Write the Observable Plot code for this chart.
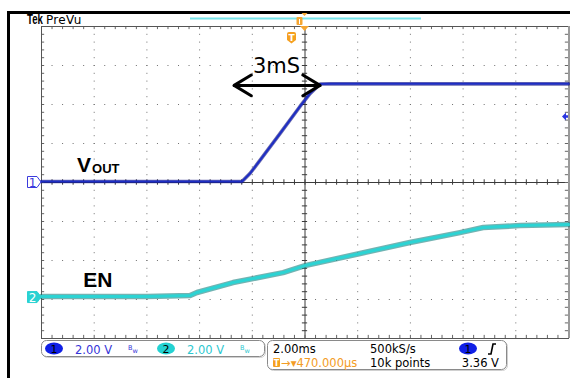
<!DOCTYPE html>
<html><head><meta charset="utf-8">
<script src="https://cdn.jsdelivr.net/npm/d3@7"></script>
<script src="https://cdn.jsdelivr.net/npm/@observablehq/plot@0.6"></script>
<style>
html,body{margin:0;padding:0;background:#fff;}
#chart{position:absolute;left:0;top:0;width:570px;height:378px;overflow:hidden;}
</style></head>
<body>
<div id="chart"></div>
<script>
// ---- scope settings ----
const timeDomain = [-10, 10];      // ms (2.00 ms/div, 10 div)
const divDomain = [-4, 4];         // vertical divisions
const voltsPerDiv = 2.0;           // both channels 2.00 V/div
const ch1Offset = 0;               // ground marker of ch1 (div)
const ch2Offset = -2.95;           // ground marker of ch2 (div)
const triggerLevel = 3.36;         // V on ch1

// ---- Channel 1 : VOUT ----
const voutTime  = [-10, -6, -2.39, -2.09, -1.71, -0.95, -0.19, 0.19, 0.57, 1.0, 5, 10];
const voutVolts = [0.05, 0.05, 0.05, 0.46, 1.13, 2.51, 3.90, 4.56, 5.05, 5.06, 5.06, 5.06];

// ---- Channel 2 : EN ----
const enTime  = [-10, -6, -4.36, -4.1, -2.73, -0.83, 0, 2.09, 3.98, 5.88, 6.76, 8.16, 10];
const enVolts = [0.05, 0.05, 0.10, 0.26, 0.77, 1.28, 1.64, 2.26, 2.82, 3.33, 3.59, 3.69, 3.74];

// ---- graticule ----
const gridX = [-8, -6, -4, -2, 2, 4, 6, 8];
const gridY = [-3, -2, -1, 1, 2, 3];
const minorX = d3.range(-10, 10.001, 0.4);
const minorY = d3.range(-4, 4.001, 0.2);

// ---- annotations ----
const spanLabel = [{t: -1.08, y: 2.98, s: "3mS"}];
const spanEnds = [-2.69, 0.57];     // ms, ends of the 3 ms arrow
const spanY = 2.49;
const vLabel = [{t: -8.65, y: 0.45, s: "V"}];
const outLabel = [{t: -8.08, y: 0.35, s: "OUT"}];
const enLabel = [{t: -8.42, y: -2.51, s: "EN"}];

const vout = voutTime.map((t, i) => ({t, v: voutVolts[i]}));
const en = enTime.map((t, i) => ({t, v: enVolts[i]}));
const y1 = d => ch1Offset + d.v / voltsPerDiv;
const y2 = d => ch2Offset + d.v / voltsPerDiv;

const plot = Plot.plot({
  width: 570, height: 378,
  marginLeft: 41, marginRight: 2, marginTop: 26, marginBottom: 40,
  x: {domain: timeDomain, axis: null},
  y: {domain: divDomain, axis: null},
  style: {fontFamily: "DejaVu Sans", background: "white"},
  marks: [
    Plot.ruleY(gridY, {stroke: "#707070", strokeDasharray: "1,9.54"}),
    Plot.ruleX(gridX, {stroke: "#707070", strokeDasharray: "1,6.8"}),
    Plot.ruleX([0], {stroke: "#3a3a3a"}),
    Plot.ruleY([0], {stroke: "#3a3a3a"}),
    Plot.ruleX(minorX, {y1: -0.07, y2: 0.07, stroke: "#3a3a3a"}),
    Plot.ruleY(minorY, {x1: -0.1, x2: 0.1, stroke: "#3a3a3a"}),
    Plot.ruleX(minorX, {y1: 4, y2: 3.92, stroke: "#666"}),
    Plot.ruleX(minorX, {y1: -4, y2: -3.92, stroke: "#666"}),
    Plot.ruleY(minorY, {x1: -10, x2: -9.88, stroke: "#666"}),
    Plot.ruleY(minorY, {x1: 10, x2: 9.88, stroke: "#666"}),
    Plot.frame({stroke: "#555"}),
    Plot.ruleX([10], {stroke: "#9a9a9a", strokeWidth: 3, dx: 1}),
    // EN trace
    Plot.line(en, {x: "t", y: y2, stroke: "#16807f", strokeWidth: 5.5, strokeOpacity: 0.6}),
    Plot.line(en, {x: "t", y: y2, stroke: "#2cd3d3", strokeWidth: 3}),
    // VOUT trace
    Plot.line(vout, {x: "t", y: y1, stroke: "#0a0a78", strokeWidth: 3.6, strokeOpacity: 0.6}),
    Plot.line(vout, {x: "t", y: y1, stroke: "#1e2ec4", strokeWidth: 2}),
    // 3 ms span arrow
    Plot.arrow([0, 1], {x1: i => spanEnds[1 - i], x2: i => spanEnds[i], y1: () => spanY, y2: () => spanY,
      stroke: "#000", strokeWidth: 3, headLength: 10, headAngle: 62}),
    Plot.text(spanLabel, {x: "t", y: "y", text: "s", fontSize: 21, fill: "#000", fontFamily: "DejaVu Sans"}),
    Plot.text(vLabel, {x: "t", y: "y", text: "s", textAnchor: "start", fontSize: 21, fontWeight: "bold", fill: "#000", fontFamily: "Liberation Sans"}),
    Plot.text(outLabel, {x: "t", y: "y", text: "s", textAnchor: "start", fontSize: 13, fontWeight: "bold", fill: "#000", fontFamily: "Liberation Sans"}),
    Plot.text(enLabel, {x: "t", y: "y", text: "s", textAnchor: "start", fontSize: 21, fontWeight: "bold", fill: "#000", fontFamily: "Liberation Sans"})
  ]
});
document.getElementById("chart").appendChild(plot);

// ---- scope chrome (uses the plot's scales) ----
const svg = d3.select(plot);
const ys = plot.scale("y");
const xs = plot.scale("x");
const g = svg.append("g").attr("text-anchor", "start");

// black outer borders
g.append("rect").attr("x", 7).attr("y", 11).attr("width", 3).attr("height", 367).attr("fill", "#000");
g.append("rect").attr("x", 7).attr("y", 11).attr("width", 563).attr("height", 3).attr("fill", "#000");

// Tek PreVu
g.append("text").attr("transform", "translate(27,24) scale(0.62,1)").attr("text-anchor", "start")
  .attr("font-size", 15.5).attr("font-weight", "bold")
  .attr("font-family", "Liberation Sans").attr("fill", "#000").text("Tek");
g.append("text").attr("x", 46).attr("y", 23.5).attr("text-anchor", "start").attr("font-size", 12).attr("letter-spacing", 0.3)
  .attr("font-family", "DejaVu Sans").attr("fill", "#000").text("PreVu");

// record view bar
g.append("line").attr("x1", 190).attr("x2", 421).attr("y1", 18.5).attr("y2", 18.5)
  .attr("stroke", "#78e6ec").attr("stroke-width", 1.8);
const xc = xs.apply(0);
g.append("rect").attr("x", xc - 8).attr("y", 17).attr("width", 6).attr("height", 8).attr("rx", 1).attr("fill", "#f5a530");
g.append("line").attr("x1", xc - 5).attr("x2", xc - 5).attr("y1", 19).attr("y2", 24).attr("stroke", "#fff").attr("stroke-width", 1);
g.append("path").attr("d", `M${xc - 3},13 L${xc + 3},13 L${xc},16 Z`).attr("fill", "#f5a530");
g.append("path").attr("d", `M${xc - 4.5},26 L${xc + 4.5},26 L${xc},31 Z`).attr("fill", "#f5a530");
// trigger position "T"
const tx = xc - 13;
g.append("path").attr("d", `M${tx - 4.5},34 Q${tx - 4.5},32 ${tx - 2.5},32 L${tx + 2.5},32 Q${tx + 4.5},32 ${tx + 4.5},34 L${tx + 4.5},40 L${tx},43.5 L${tx - 4.5},40 Z`)
  .attr("fill", "#f5a020");
g.append("text").attr("x", tx).attr("y", 40.5).attr("text-anchor", "middle").attr("font-size", 9)
  .attr("font-weight", "bold").attr("fill", "#fff").attr("font-family", "DejaVu Sans").text("T");

// channel ground markers
function chMarker(yy, label, fill, stroke, txt) {
  const m = g.append("g").attr("transform", `translate(0,${yy})`);
  m.append("path").attr("d", "M27.5,-5.5 H37 L41,0 L37,5.5 H27.5 Z").attr("fill", fill).attr("stroke", stroke).attr("stroke-width", 1);
  m.append("text").attr("x", 32.5).attr("y", 4.5).attr("text-anchor", "middle").attr("font-size", 12)
    .attr("fill", txt).attr("font-family", "DejaVu Sans").text(label);
}
chMarker(ys.apply(ch1Offset), "1", "#fff", "#3b3bdd", "#3b3bdd");
chMarker(ys.apply(ch2Offset), "2", "#2ad2d2", "#2ad2d2", "#fff");

// trigger level arrow on right
const ty = ys.apply(ch1Offset + triggerLevel / voltsPerDiv);
g.append("path").attr("d", `M562,${ty} L566,${ty - 4} L566,${ty - 1.2} L568,${ty - 1.2} L568,${ty + 1.2} L566,${ty + 1.2} L566,${ty + 4} Z`).attr("fill", "#2a35e0");

// bottom status boxes
function box(x, y, w, h) {
  g.append("rect").attr("x", x + 1).attr("y", y + 1).attr("width", w).attr("height", h).attr("rx", 5)
    .attr("fill", "none").attr("stroke", "#d0d0d0");
  g.append("rect").attr("x", x).attr("y", y).attr("width", w).attr("height", h).attr("rx", 5)
    .attr("fill", "#fff").attr("stroke", "#8a8a8a");
}
box(41.5, 340.5, 223, 16);
box(267.5, 340.5, 239, 29);
function txt(x, y, s, fill, size = 11.5, anchor = "start") {
  return g.append("text").attr("x", x).attr("y", y).attr("font-size", size).attr("fill", fill)
    .attr("text-anchor", anchor).attr("font-family", "DejaVu Sans").text(s);
}
function pill(cx, cy, fill, label) {
  g.append("ellipse").attr("cx", cx).attr("cy", cy).attr("rx", 9).attr("ry", 6).attr("fill", fill);
  txt(cx, cy + 4, label, "#000", 11, "middle");
}
function bw(x, y, fill) {
  const t = g.append("text").attr("x", x).attr("y", y).attr("text-anchor", "start").attr("font-size", 6.5)
    .attr("fill", fill).attr("font-family", "DejaVu Sans");
  t.append("tspan").text("B");
  t.append("tspan").attr("dy", 3).text("w");
}
pill(54, 348.5, "#1020e6", "1");
txt(75, 354, "2.00 V", "#3535d8");
bw(128, 350, "#3535d8");
pill(166, 348.5, "#24d2d2", "2");
txt(187, 354, "2.00 V", "#2cc8d0");
bw(240, 350, "#2cc8d0");

txt(273, 353, "2.00ms", "#000");
txt(370, 353, "500kS/s", "#000");
pill(468, 348.5, "#1020e6", "1");
g.append("path").attr("d", "M488,354 L491,354 L493,344 L496,344").attr("fill", "none").attr("stroke", "#000").attr("stroke-width", 1.6);
g.append("rect").attr("x", 273).attr("y", 358).attr("width", 7).attr("height", 9).attr("rx", 1).attr("fill", "#f5a020");
txt(276.5, 366, "T", "#fff", 8, "middle").attr("font-weight", "bold");
txt(281, 367, "→▾470.000µs", "#f39c26");
txt(370, 367, "10k points", "#000");
txt(499, 367, "3.36 V", "#000", 11.5, "end");
</script>
</body></html>
